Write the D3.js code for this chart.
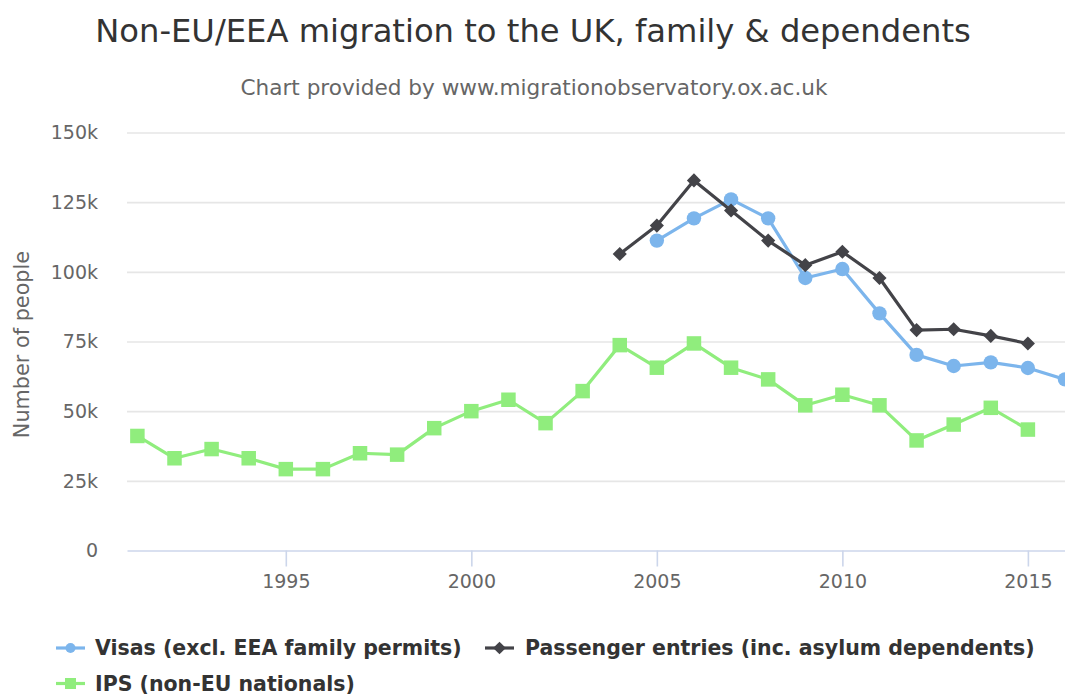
<!DOCTYPE html>
<html>
<head>
<meta charset="utf-8">
<script src="https://cdn.jsdelivr.net/npm/d3@7"></script>
<style>
  html, body { margin: 0; padding: 0; background: #fff; overflow: hidden; }
  svg { display: block; font-family: "DejaVu Sans", Verdana, sans-serif; }
</style>
</head>
<body>
<svg id="chart" width="1065" height="694"></svg>
<script>
// ---- data ----
const titleText = "Non-EU/EEA migration to the UK, family & dependents";
const subtitleText = "Chart provided by www.migrationobservatory.ox.ac.uk";
const yAxisTitle = "Number of people";

const visaYears = [2005, 2006, 2007, 2008, 2009, 2010, 2011, 2012, 2013, 2014, 2015, 2016];
const visaValues = [111200, 119200, 126000, 119200, 97800, 101000, 85100, 70200, 66200, 67500, 65500, 61400];

const passengerYears = [2004, 2005, 2006, 2007, 2008, 2009, 2010, 2011, 2012, 2013, 2014, 2015];
const passengerValues = [106400, 116600, 132800, 122000, 111200, 102400, 107200, 97800, 79100, 79400, 77000, 74300];

const ipsYears = [1991, 1992, 1993, 1994, 1995, 1996, 1997, 1998, 1999, 2000, 2001, 2002, 2003,
                  2004, 2005, 2006, 2007, 2008, 2009, 2010, 2011, 2012, 2013, 2014, 2015];
const ipsValues = [41100, 33100, 36400, 33100, 29200, 29200, 34900, 34400, 43900, 50000, 54100, 45700, 57200,
                   73700, 65600, 74300, 65600, 61400, 52100, 55900, 52100, 39500, 45200, 51200, 43400];

const yTicks = [0, 25000, 50000, 75000, 100000, 125000, 150000];
const yTickLabels = ["0", "25k", "50k", "75k", "100k", "125k", "150k"];
const xTicks = [1995, 2000, 2005, 2010, 2015];
const xTickLabels = ["1995", "2000", "2005", "2010", "2015"];

const seriesNames = ["Visas (excl. EEA family permits)", "Passenger entries (inc. asylum dependents)", "IPS (non-EU nationals)"];
const seriesColors = ["#7cb5ec", "#434348", "#90ed7d"];
const seriesSymbols = ["circle", "diamond", "square"];

// ---- layout ----
const svg = d3.select("#chart");
const plot = { left: 127, right: 1065, top: 132.5, bottom: 550.5 };

const x = d3.scaleLinear().domain([1990.72, 2016]).range([plot.left, plot.right]);
const y = d3.scaleLinear().domain([0, 150000]).range([plot.bottom, plot.top]);

// title
svg.append("text").attr("x", 533).attr("y", 42).attr("text-anchor", "middle")
  .attr("fill", "#333333").attr("font-size", 32.2).text(titleText);
svg.append("text").attr("x", 534).attr("y", 95).attr("text-anchor", "middle")
  .attr("fill", "#666666").attr("font-size", 21.6).text(subtitleText);

// grid lines (y axis)
const yAxis = d3.axisLeft(y).tickValues(yTicks).tickFormat((d, i) => yTickLabels[i])
  .tickSize(-(plot.right - plot.left)).tickPadding(29);
const gy = svg.append("g").attr("transform", `translate(${plot.left},0)`).call(yAxis);
gy.select(".domain").remove();
gy.selectAll(".tick line").attr("stroke", "#e6e6e6").attr("stroke-width", 1.6);
gy.selectAll(".tick text").attr("fill", "#666666").attr("font-size", 19)
  .attr("font-family", "DejaVu Sans").attr("dy", "0.33em");
gy.selectAll(".tick").filter(d => d === 0).select("line").remove();

// x axis
const xAxis = d3.axisBottom(x).tickValues(xTicks).tickFormat((d, i) => xTickLabels[i])
  .tickSizeInner(16).tickSizeOuter(0).tickPadding(4);
const gx = svg.append("g").attr("transform", `translate(0,${plot.bottom})`).call(xAxis);
gx.select(".domain").attr("stroke", "#ccd6eb").attr("stroke-width", 1.6);
gx.selectAll(".tick line").attr("stroke", "#ccd6eb").attr("stroke-width", 1.6);
gx.selectAll(".tick text").attr("fill", "#666666").attr("font-size", 19)
  .attr("font-family", "DejaVu Sans").attr("dy", "0.9em");

// y axis title
svg.append("text").attr("transform", `translate(29,${(plot.top + plot.bottom) / 2 + 3}) rotate(-90)`)
  .attr("text-anchor", "middle").attr("fill", "#666666").attr("font-size", 20.8).text(yAxisTitle);

// series
const series = [
  { years: visaYears, values: visaValues },
  { years: passengerYears, values: passengerValues },
  { years: ipsYears, values: ipsValues }
];

const symbolMap = { circle: d3.symbolCircle, diamond: d3.symbolSquare, square: d3.symbolSquare };
const symbolRotate = { circle: 0, diamond: 45, square: 0 };
const markerSize = { circle: Math.PI * 7.2 * 7.2, diamond: 10 * 10, square: 14.5 * 14.5 };

const line = d3.line().x(d => x(d[0])).y(d => y(d[1]));

series.forEach((s, i) => {
  const pts = s.years.map((yr, j) => [yr, s.values[j]]);
  const g = svg.append("g");
  g.append("path").datum(pts).attr("d", line).attr("fill", "none")
    .attr("stroke", seriesColors[i]).attr("stroke-width", 3.2)
    .attr("stroke-linejoin", "round").attr("stroke-linecap", "round");
  const sym = seriesSymbols[i];
  g.selectAll("path.m").data(pts).enter().append("path").attr("class", "m")
    .attr("transform", d => `translate(${x(d[0])},${y(d[1])}) rotate(${symbolRotate[sym]})`)
    .attr("d", d3.symbol().type(symbolMap[sym]).size(markerSize[sym]))
    .attr("fill", seriesColors[i]);
});

// legend
const legendItems = [
  { sx: 56, tx: 95, yy: 648 },
  { sx: 485, tx: 525, yy: 648 },
  { sx: 56, tx: 95, yy: 683.5 }
];
const legendMarkerSize = { circle: Math.PI * 5 * 5, diamond: 9 * 9, square: 11 * 11 };
legendItems.forEach((it, i) => {
  const g = svg.append("g");
  const sym = seriesSymbols[i];
  g.append("line").attr("x1", it.sx).attr("x2", it.sx + 29).attr("y1", it.yy).attr("y2", it.yy)
    .attr("stroke", seriesColors[i]).attr("stroke-width", 3.2);
  g.append("path").attr("transform", `translate(${it.sx + 14.5},${it.yy}) rotate(${symbolRotate[sym]})`)
    .attr("d", d3.symbol().type(symbolMap[sym]).size(legendMarkerSize[sym]))
    .attr("fill", seriesColors[i]);
  g.append("text").attr("x", it.tx).attr("y", it.yy + 7).attr("fill", "#333333")
    .attr("font-size", 20.5).attr("font-weight", "bold").text(seriesNames[i]);
});
</script>
</body>
</html>
